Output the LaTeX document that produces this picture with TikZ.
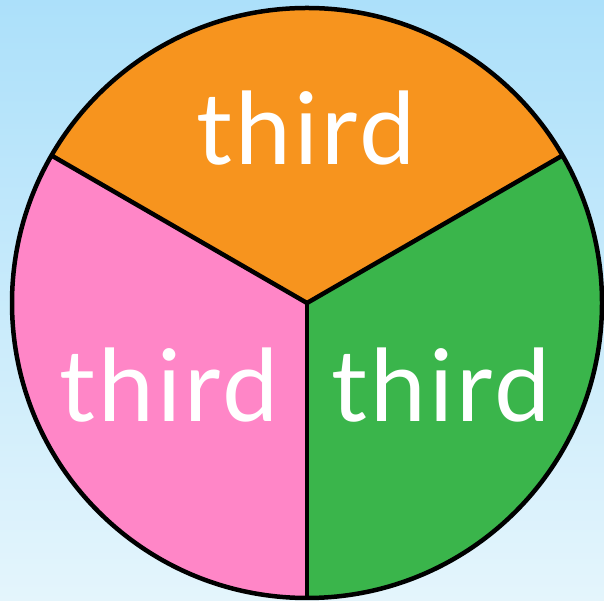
\documentclass[tikz,border=0pt]{standalone}
\usepackage{fontspec}
\setmainfont{Lato}
\usetikzlibrary{positioning}
\definecolor{skytop}{RGB}{172,224,250}
\definecolor{skybottom}{RGB}{228,245,252}
\definecolor{myorange}{RGB}{247,148,30}
\definecolor{mypink}{RGB}{255,134,199}
\definecolor{mygreen}{RGB}{58,181,75}
\tikzset{
  sector edge/.style={draw=black, line width=4.5pt, line join=round},
  third label/.style={text=white, font=\fontsize{100}{100}\selectfont\addfontfeatures{LetterSpace=3}, inner sep=0pt, anchor=base}
}

\begin{document}
\begin{tikzpicture}[x=1pt, y=1pt]

  % =================================================================================
  % BACKGROUND
  % =================================================================================

  \shade[top color=skytop, bottom color=skybottom] (0,0) rectangle (604,601);
  \useasboundingbox (0,0) rectangle (604,601);

  % =================================================================================
  % THREE SECTORS
  % =================================================================================

  \coordinate (centre) at (307,298);

  \fill[myorange] (centre) -- ++(30:295) arc[start angle=30, end angle=150, radius=295] -- cycle;
  \fill[mypink]   (centre) -- ++(150:295) arc[start angle=150, end angle=270, radius=295] -- cycle;
  \fill[mygreen]  (centre) -- ++(270:295) arc[start angle=270, end angle=390, radius=295] -- cycle;

  % Dividing lines and outer rim
  \draw[sector edge] (centre) -- ++(30:295);
  \draw[sector edge] (centre) -- ++(150:295);
  \draw[sector edge] (centre) -- ++(270:295);
  \draw[sector edge] (centre) circle[radius=295];

  % =================================================================================
  % LABELS
  % =================================================================================

  \node[third label] (third-top)   at (306,436) {third};
  \node[third label] (third-left)  at (169,179) {third};
  \node[third label] (third-right) at (441,179) {third};

\end{tikzpicture}
\end{document}
